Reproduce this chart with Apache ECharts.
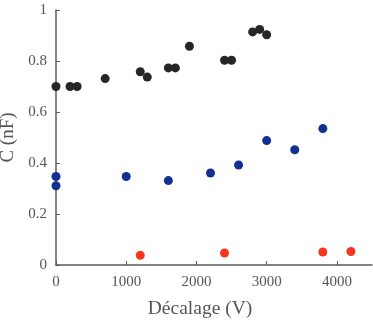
<!DOCTYPE html>
<html>
<head>
<meta charset="utf-8">
<script src="https://cdn.jsdelivr.net/npm/echarts@6/dist/echarts.min.js"></script>
<style>
  html, body { margin: 0; padding: 0; background: #fff; }
  #chart { width: 373px; height: 321px; }
</style>
</head>
<body>
<div id="chart"></div>
<script>
// série noire
const blackX = [0, 200, 300, 700, 1200, 1300, 1600, 1700, 1900, 2400, 2500, 2800, 2900, 3000];
const blackY = [0.70, 0.70, 0.70, 0.731, 0.758, 0.737, 0.773, 0.773, 0.858, 0.803, 0.803, 0.914, 0.924, 0.903];
// série bleue
const blueX = [0, 0, 1000, 1600, 2200, 2600, 3000, 3400, 3800];
const blueY = [0.347, 0.311, 0.347, 0.331, 0.361, 0.392, 0.488, 0.452, 0.535];
// série rouge
const redX = [1200, 2400, 3800, 4200];
const redY = [0.038, 0.047, 0.051, 0.053];

const xTicks = [0, 1000, 2000, 3000, 4000];
const yTicks = [0, 0.2, 0.4, 0.6, 0.8, 1];

const pairs = (xs, ys) => xs.map((x, i) => [x, ys[i]]);

const serif = "'Liberation Serif', 'Times New Roman', serif";
const axisColor = '#5a5a5a';
const labelFont = { color: '#555', fontFamily: serif, fontSize: 15 };

const chart = echarts.init(document.getElementById('chart'));
chart.setOption({
  animation: false,
  grid: { left: 56, right: 1, top: 10, bottom: 56, outerBoundsMode: 'none', containLabel: false },
  xAxis: {
    type: 'value',
    min: 0,
    max: 4500,
    interval: 1000,
    name: 'Décalage (V)',
    nameLocation: 'middle',
    nameGap: 34,
    nameTextStyle: { color: '#555', fontFamily: serif, fontSize: 19.5, padding: [0, 28, 0, 0] },
    axisLine: { lineStyle: { color: axisColor, width: 1.5 } },
    axisTick: { inside: true, length: 4, lineStyle: { color: axisColor } },
    axisLabel: Object.assign({ margin: 10, showMaxLabel: false,
      formatter: v => xTicks.includes(v) ? String(v) : '' }, labelFont),
    splitLine: { show: false }
  },
  yAxis: {
    type: 'value',
    min: 0,
    max: 1,
    interval: 0.2,
    name: 'C (nF)',
    nameLocation: 'middle',
    nameGap: 37,
    nameTextStyle: { color: '#555', fontFamily: serif, fontSize: 19 },
    axisLine: { show: true, lineStyle: { color: axisColor, width: 1.5 } },
    axisTick: { show: true, inside: true, length: 4, lineStyle: { color: axisColor } },
    axisLabel: Object.assign({ margin: 9,
      formatter: v => {
        const t = yTicks.find(k => Math.abs(k - v) < 1e-9);
        return t === undefined ? '' : String(t);
      } }, labelFont),
    splitLine: { show: false }
  },
  series: [
    { type: 'scatter', data: pairs(blackX, blackY), symbolSize: 9, itemStyle: { color: '#262626', opacity: 1 } },
    { type: 'scatter', data: pairs(blueX, blueY), symbolSize: 9, itemStyle: { color: '#12308f', opacity: 1 } },
    { type: 'scatter', data: pairs(redX, redY), symbolSize: 9, itemStyle: { color: '#f2361f', opacity: 1 } }
  ]
});
</script>
</body>
</html>
